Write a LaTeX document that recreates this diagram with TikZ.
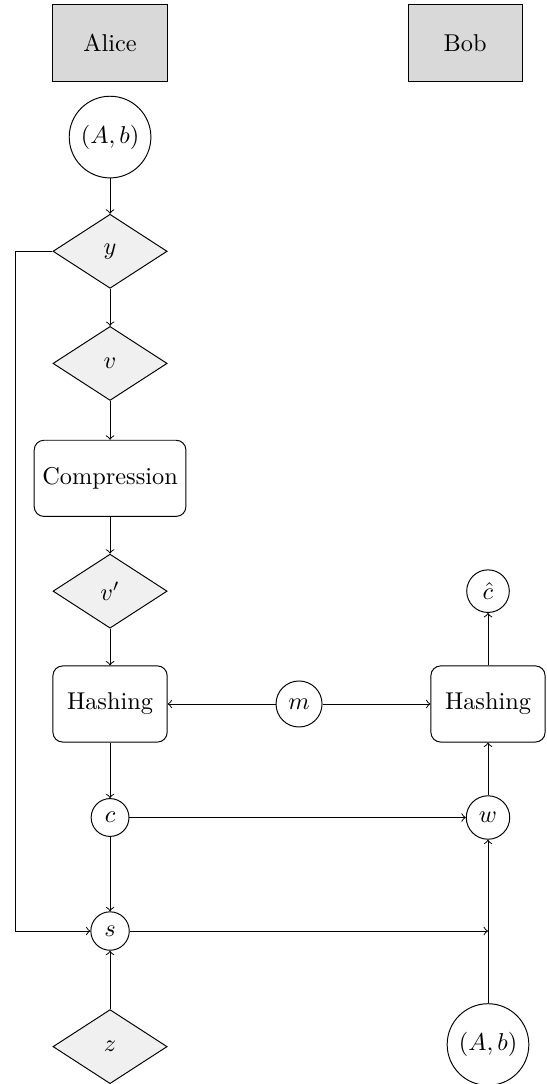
\documentclass[tikz,border=0pt]{standalone}
\usetikzlibrary{shapes.geometric}
\begin{document}
\begin{tikzpicture}[
    party/.style={draw, fill=gray!30, minimum width=1.65cm,
                  minimum height=1.1cm, text centered, text=black},
    state/.style={draw, rounded corners, fill=none, minimum width=1.65cm,
                  minimum height=1.1cm, text centered, text=black},
    value/.style={draw, diamond, fill=gray!12, minimum width=1.65cm,
                  minimum height=1.07cm, inner sep=1pt},
    var/.style={draw, circle, fill=none},
    key/.style={draw, circle, fill=none, inner sep=1pt, minimum size=1.18cm}]
	\useasboundingbox (0,0) rectangle (7.89,-15.66);
	\node[party] (alice) at (1.59, -0.62) {Alice};
	\node[party] (bob)   at (6.72, -0.62) {Bob};
	\node[key]   (ab1)   at (1.59, -1.98) {$(A,b)$};
	\node[value] (y)     at (1.59, -3.63) {$y$};
	\node[value] (v)     at (1.59, -5.25) {$v$};
	\node[state] (comp)  at (1.59, -6.91) {Compression};
	\node[value] (vp)    at (1.59, -8.54) {$v'$};
	\node[state] (hash1) at (1.59, -10.17) {Hashing};
	\node[var]   (m)     at (4.32, -10.17) {$m$};
	\node[state] (hash2) at (7.05, -10.17) {Hashing};
	\node[var]   (chat)  at (7.05, -8.54) {$\hat{c}$};
	\node[var]   (c)     at (1.59, -11.81) {$c$};
	\node[var]   (w)     at (7.05, -11.81) {$w$};
	\node[var]   (s)     at (1.59, -13.45) {$s$};
	\node[value] (z)     at (1.59, -15.12) {$z$};
	\node[key]   (ab2)   at (7.05, -15.09) {$(A,b)$};
	\coordinate (lt) at (0.22, -3.63);
	\coordinate (lb) at (0.22, -13.45);
	\coordinate (rs) at (7.05, -13.45);
	\path[->] 	(ab1)   edge   (y);
	\path[->] 	(y)     edge   (v);
	\path[->] 	(v)     edge   (comp);
	\path[->] 	(comp)  edge   (vp);
	\path[->] 	(vp)    edge   (hash1);
	\path[->] 	(m)     edge   (hash1);
	\path[->] 	(m)     edge   (hash2);
	\path[->] 	(hash2) edge   (chat);
	\path[->] 	(hash1) edge   (c);
	\path[->] 	(c)     edge   (w);
	\path[->] 	(c)     edge   (s);
	\path[->] 	(w)     edge   (hash2);
	\path[->] 	(ab2)   edge   (w);
	\path[->] 	(z)     edge   (s);
	\path[->] 	(s)     edge   (rs);
	\draw[->] 	(y) -- (lt) -- (lb) -- (s);
\end{tikzpicture}
\end{document}
